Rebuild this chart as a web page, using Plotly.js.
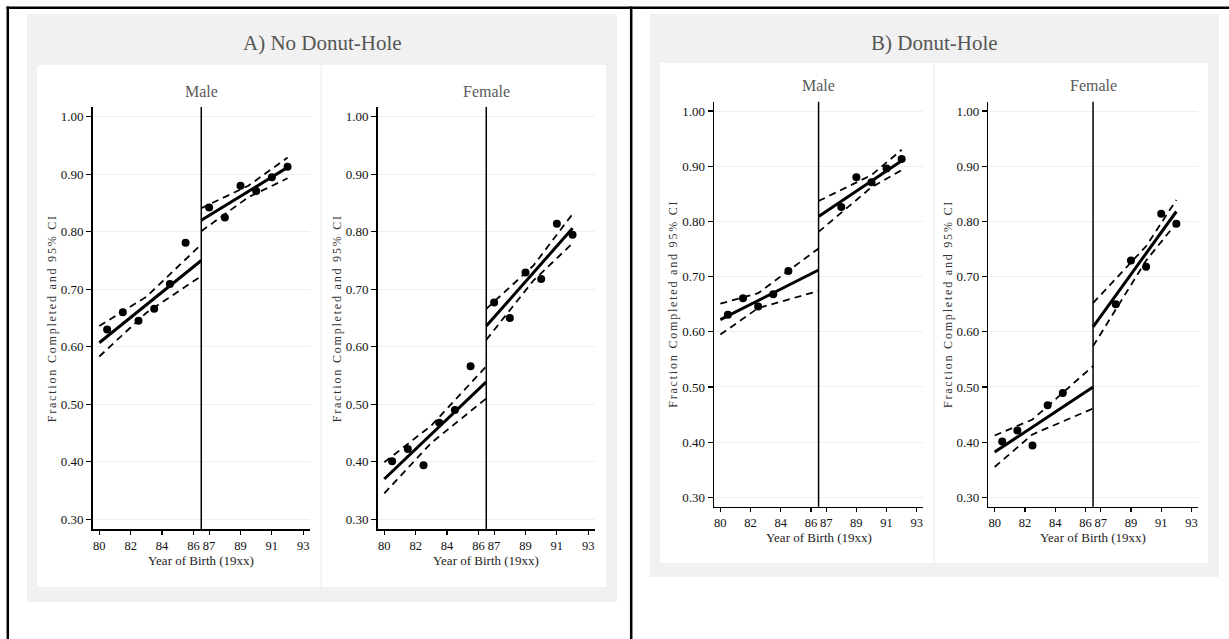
<!DOCTYPE html>
<html>
<head>
<meta charset="utf-8">
<script src="https://cdn.plot.ly/plotly-3.0.1.min.js"></script>
<style>
  html, body { margin: 0; padding: 0; background: #ffffff; }
  #chart { width: 1229px; height: 639px; }
</style>
</head>
<body>
<div id="chart"></div>
<script>
// ---------------- DATA ----------------
const panelTitles = ["A) No Donut-Hole", "B) Donut-Hole"];
const groupTitles = ["Male", "Female"];
const yAxisTitle = "Fraction Completed and 95% CI";
const xAxisTitle = "Year of Birth (19xx)";

const xTickVals = [80, 82, 84, 86, 87, 89, 91, 93];
const xTickText = ["80", "82", "84", "86", "87", "89", "91", "93"];
const yTickVals = [0.30, 0.40, 0.50, 0.60, 0.70, 0.80, 0.90, 1.00];
const yTickText = ["0.30", "0.40", "0.50", "0.60", "0.70", "0.80", "0.90", "1.00"];

const cutoff = 86.5;

// Panel A (no donut-hole): binned means
const xLeftA = [80.5, 81.5, 82.5, 83.5, 84.5, 85.5];
const xRightA = [87, 88, 89, 90, 91, 92];
const maleA_left = [0.630, 0.660, 0.645, 0.666, 0.709, 0.781];
const maleA_right = [0.842, 0.825, 0.880, 0.871, 0.895, 0.913];
const femaleA_left = [0.401, 0.422, 0.394, 0.468, 0.490, 0.566];
const femaleA_right = [0.677, 0.650, 0.729, 0.718, 0.814, 0.795];

// Panel B (donut-hole): binned means
const xLeftB = [80.5, 81.5, 82.5, 83.5, 84.5];
const xRightB = [88, 89, 90, 91, 92];
const maleB_left = [0.631, 0.661, 0.646, 0.668, 0.710];
const maleB_right = [0.826, 0.880, 0.871, 0.896, 0.913];
const femaleB_left = [0.401, 0.421, 0.394, 0.467, 0.489];
const femaleB_right = [0.650, 0.729, 0.718, 0.814, 0.796];

// Fitted lines and 95% CI
const fitXLeftA = [80, 83, 86.5];
const fitXRightA = [86.5, 89.5, 92];
const fitXLeftB = [80, 82.5, 86.5];
const fitXRightB = [86.5, 90, 92];

const maleA_fitL = [0.607, 0.673, 0.750];
const maleA_upL = [0.636, 0.687, 0.778];
const maleA_loL = [0.583, 0.659, 0.723];
const maleA_fitR = [0.820, 0.870, 0.912];
const maleA_upR = [0.841, 0.880, 0.929];
const maleA_loR = [0.801, 0.860, 0.893];

const femaleA_fitL = [0.370, 0.448, 0.539];
const femaleA_upL = [0.399, 0.463, 0.566];
const femaleA_loL = [0.345, 0.433, 0.510];
const femaleA_fitR = [0.636, 0.728, 0.806];
const femaleA_upR = [0.666, 0.741, 0.831];
const femaleA_loR = [0.612, 0.715, 0.780];

const maleB_fitL = [0.622, 0.657, 0.712];
const maleB_upL = [0.651, 0.670, 0.751];
const maleB_loL = [0.595, 0.643, 0.674];
const maleB_fitR = [0.809, 0.873, 0.910];
const maleB_upR = [0.837, 0.884, 0.930];
const maleB_loR = [0.781, 0.862, 0.893];

const femaleB_fitL = [0.382, 0.427, 0.500];
const femaleB_upL = [0.412, 0.441, 0.538];
const femaleB_loL = [0.355, 0.414, 0.461];
const femaleB_fitR = [0.609, 0.742, 0.818];
const femaleB_upR = [0.652, 0.755, 0.839];
const femaleB_loR = [0.574, 0.729, 0.797];

// ---------------- LAYOUT HELPERS ----------------
const W = 1229, H = 639;
const px = v => v / W;
const py = v => 1 - v / H;
const SERIF = "Liberation Serif, Times New Roman, serif";

const panels = [
  { ax: "",  xd: [92.7, 310],   yd: [107, 529],   xs: [xLeftA, xRightA], ys: [maleA_left, maleA_right],
    fx: [fitXLeftA, fitXRightA], fit: [maleA_fitL, maleA_fitR], up: [maleA_upL, maleA_upR], lo: [maleA_loL, maleA_loR] },
  { ax: "2", xd: [377.7, 595],  yd: [107, 529],   xs: [xLeftA, xRightA], ys: [femaleA_left, femaleA_right],
    fx: [fitXLeftA, fitXRightA], fit: [femaleA_fitL, femaleA_fitR], up: [femaleA_upL, femaleA_upR], lo: [femaleA_loL, femaleA_loR] },
  { ax: "3", xd: [714, 923.3],  yd: [101.7, 506.7], xs: [xLeftB, xRightB], ys: [maleB_left, maleB_right],
    fx: [fitXLeftB, fitXRightB], fit: [maleB_fitL, maleB_fitR], up: [maleB_upL, maleB_upR], lo: [maleB_loL, maleB_loR] },
  { ax: "4", xd: [988.3, 1198], yd: [101.7, 506.7], xs: [xLeftB, xRightB], ys: [femaleB_left, femaleB_right],
    fx: [fitXLeftB, fitXRightB], fit: [femaleB_fitL, femaleB_fitR], up: [femaleB_upL, femaleB_upR], lo: [femaleB_loL, femaleB_loR] }
];

const traces = [];
const layout = {
  width: W, height: H,
  margin: { l: 0, r: 0, t: 0, b: 0, pad: 0 },
  paper_bgcolor: "#ffffff",
  plot_bgcolor: "rgba(0,0,0,0)",
  showlegend: false,
  font: { family: SERIF, color: "#000" },
  shapes: [],
  annotations: []
};

panels.forEach((p, i) => {
  const xa = "x" + p.ax, ya = "y" + p.ax;
  for (let s = 0; s < 2; s++) {
    traces.push({ type: "scatter", mode: "markers", x: p.xs[s], y: p.ys[s], xaxis: xa, yaxis: ya,
      marker: { color: "#000", size: 8 }, hoverinfo: "skip" });
    traces.push({ type: "scatter", mode: "lines", x: p.fx[s], y: p.fit[s], xaxis: xa, yaxis: ya,
      line: { color: "#000", width: 3 }, hoverinfo: "skip" });
    traces.push({ type: "scatter", mode: "lines", x: p.fx[s], y: p.up[s], xaxis: xa, yaxis: ya,
      line: { color: "#000", width: 1.8, dash: "7px,5px" }, hoverinfo: "skip" });
    traces.push({ type: "scatter", mode: "lines", x: p.fx[s], y: p.lo[s], xaxis: xa, yaxis: ya,
      line: { color: "#000", width: 1.8, dash: "7px,5px" }, hoverinfo: "skip" });
  }
  layout["xaxis" + p.ax] = {
    domain: [px(p.xd[0]), px(p.xd[1])], anchor: ya, range: [79.58, 93.43],
    tickmode: "array", tickvals: xTickVals, ticktext: xTickText, tickangle: 0,
    showline: true, linecolor: "#000", linewidth: 1.5, mirror: false,
    ticks: "outside", ticklen: 4, tickwidth: 1.2, tickcolor: "#000",
    showgrid: false, zeroline: false, fixedrange: true,
    tickfont: { family: SERIF, size: 12.5, color: "#111" }
  };
  layout["yaxis" + p.ax] = {
    domain: [py(p.yd[1]), py(p.yd[0])], anchor: xa, range: [0.283, 1.017],
    tickmode: "array", tickvals: yTickVals, ticktext: yTickText, tickangle: 0,
    showline: true, linecolor: "#000", linewidth: 1.5,
    ticks: "outside", ticklen: 5, tickwidth: 1.2, tickcolor: "#000",
    showgrid: true, gridcolor: "#efefef", gridwidth: 1, zeroline: false, fixedrange: true,
    tickfont: { family: SERIF, size: 13, color: "#111" }
  };
  // cutoff vertical line
  layout.shapes.push({ type: "line", xref: xa, yref: ya + " domain", x0: cutoff, x1: cutoff, y0: 0, y1: 1,
    line: { color: "#000", width: 1.5 }, layer: "above" });
  // sub titles
  const cx = (p.xd[0] + p.xd[1]) / 2;
  layout.annotations.push({ xref: "paper", yref: "paper", x: px(cx), y: py(p.yd[0] - 16),
    text: groupTitles[i % 2], showarrow: false, xanchor: "center", yanchor: "middle",
    font: { family: SERIF, size: 16, color: "#5a5a5a" } });
  // y title
  const cy = (p.yd[0] + p.yd[1]) / 2;
  layout.annotations.push({ xref: "paper", yref: "paper", x: px(p.xd[0] - 40.5), y: py(cy),
    text: yAxisTitle, showarrow: false, textangle: -90, xanchor: "center", yanchor: "middle",
    font: { family: SERIF, size: 12, color: "#333" } });
  // x title
  layout.annotations.push({ xref: "paper", yref: "paper", x: px(cx), y: py(p.yd[1] + 31),
    text: xAxisTitle, showarrow: false, xanchor: "center", yanchor: "middle",
    font: { family: SERIF, size: 13, color: "#222" } });
});

// panel titles
layout.annotations.push({ xref: "paper", yref: "paper", x: px(322), y: py(43), text: panelTitles[0],
  showarrow: false, xanchor: "center", yanchor: "middle", font: { family: SERIF, size: 21, color: "#555" } });
layout.annotations.push({ xref: "paper", yref: "paper", x: px(934.5), y: py(43), text: panelTitles[1],
  showarrow: false, xanchor: "center", yanchor: "middle", font: { family: SERIF, size: 21, color: "#555" } });

// background boxes
function rect(x0, y0, x1, y1, fill) {
  return { type: "rect", xref: "paper", yref: "paper", x0: px(x0), x1: px(x1), y0: py(y1), y1: py(y0),
    fillcolor: fill, line: { width: 0 }, layer: "below" };
}
function pline(x0, y0, x1, y1, color, w, layer) {
  return { type: "line", xref: "paper", yref: "paper", x0: px(x0), x1: px(x1), y0: py(y0), y1: py(y1),
    line: { color: color, width: w }, layer: layer };
}
layout.shapes.unshift(
  rect(27, 14, 617, 602, "#f1f1f1"),
  rect(37, 65, 606, 587, "#ffffff"),
  pline(321, 65, 321, 587, "#ececec", 1, "below"),
  rect(650, 14, 1219, 577, "#f1f1f1"),
  rect(660, 63, 1208, 563, "#ffffff"),
  pline(934, 63, 934, 563, "#ececec", 1, "below")
);
layout.shapes.push(
  pline(6.5, 7.7, 1229, 7.7, "#000", 2.5, "above"),
  pline(7.8, 6.5, 7.8, 639, "#000", 2.5, "above"),
  pline(631.2, 6.5, 631.2, 639, "#000", 2.5, "above")
);

Plotly.newPlot("chart", traces, layout, { staticPlot: true, displayModeBar: false }).then(() => {
  document.querySelectorAll("#chart .annotation-text").forEach(t => {
    if (t.textContent === yAxisTitle) t.setAttribute("letter-spacing", "1.8px");
  });
});
</script>
</body>
</html>
